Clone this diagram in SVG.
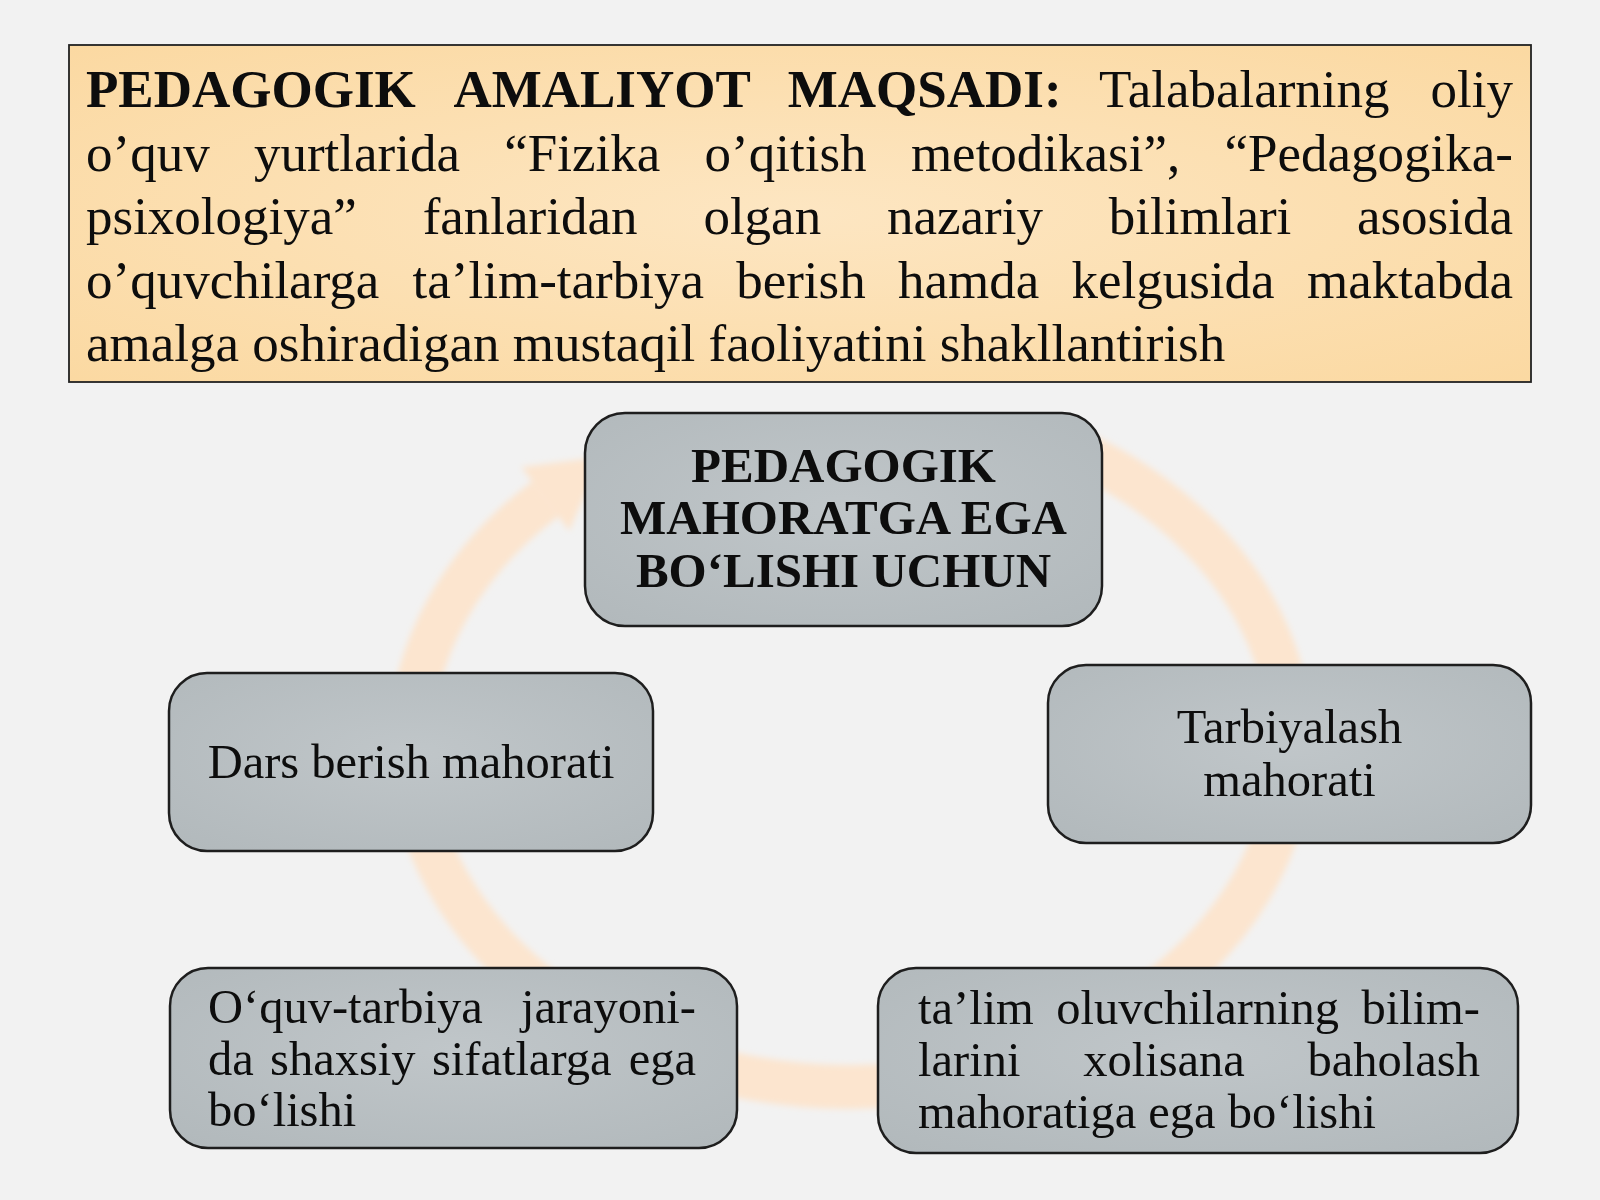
<svg xmlns="http://www.w3.org/2000/svg" width="1600" height="1200" viewBox="0 0 1600 1200">
<defs>
<style>
.serif{font-family:"Liberation Serif","Times New Roman",serif;fill:#0d0d0d;}
.top{font-size:53px;}
.b{font-weight:bold;}
.box{font-size:48.5px;}
.node{stroke:#1e1e1e;stroke-width:2.5;fill:url(#grayG);}
</style>
<radialGradient id="peachG" cx="50%" cy="50%" r="70%">
<stop offset="0" stop-color="#FDE6C2"/>
<stop offset="1" stop-color="#FBD9A2"/>
</radialGradient>
<radialGradient id="grayG" cx="50%" cy="45%" r="70%">
<stop offset="0" stop-color="#C0C6C9"/>
<stop offset="1" stop-color="#B2B9BC"/>
</radialGradient>
<filter id="soft" x="-10%" y="-10%" width="120%" height="120%">
<feGaussianBlur stdDeviation="3"/>
</filter>
</defs>
<rect x="0" y="0" width="1600" height="1200" fill="#F2F2F2"/>

<g id="goal">
<rect x="69" y="45" width="1462" height="337" fill="url(#peachG)" stroke="#222" stroke-width="1.8"/>
<text class="serif top b" x="86" y="107">PEDAGOGIK</text>
<text class="serif top b" x="453.4" y="107">AMALIYOT</text>
<text class="serif top b" x="787.8" y="107">MAQSADI:</text>
<text class="serif top" x="1099" y="107">Talabalarning</text>
<text class="serif top" x="1513" y="107" text-anchor="end">oliy</text>
<text class="serif top" x="86" y="170.5">o’quv</text>
<text class="serif top" x="253.9" y="170.5">yurtlarida</text>
<text class="serif top" x="504.3" y="170.5">“Fizika</text>
<text class="serif top" x="704.6" y="170.5">o’qitish</text>
<text class="serif top" x="910.9" y="170.5">metodikasi”,</text>
<text class="serif top" x="1513" y="170.5" text-anchor="end">“Pedagogika-</text>
<text class="serif top" x="86" y="234">psixologiya”</text>
<text class="serif top" x="422.7" y="234">fanlaridan</text>
<text class="serif top" x="703.4" y="234">olgan</text>
<text class="serif top" x="887" y="234">nazariy</text>
<text class="serif top" x="1108.8" y="234">bilimlari</text>
<text class="serif top" x="1513" y="234" text-anchor="end">asosida</text>
<text class="serif top" x="86" y="297.5">o’quvchilarga</text>
<text class="serif top" x="412.6" y="297.5">ta’lim-tarbiya</text>
<text class="serif top" x="736.2" y="297.5">berish</text>
<text class="serif top" x="897.9" y="297.5">hamda</text>
<text class="serif top" x="1071.4" y="297.5">kelgusida</text>
<text class="serif top" x="1513" y="297.5" text-anchor="end">maktabda</text>
<text class="serif top" x="86" y="361">amalga oshiradigan mustaqil faoliyatini shakllantirish</text>
</g>

<g id="connectors" filter="url(#soft)">
<path d="M1071,448.8 A440,342 0 1 1 545.3,499" fill="none" stroke="#FCE5CF" stroke-width="44"/>
<polygon points="521.3,467 601.3,457 569.3,531" fill="#FCE5CF"/>
</g>

<g id="center">
<rect class="node" x="585" y="413" width="517" height="213" rx="40" ry="40"/>
<text class="serif b" font-size="49" x="843.5" y="482" text-anchor="middle">PEDAGOGIK</text>
<text class="serif b" font-size="49" x="843.5" y="534" text-anchor="middle">MAHORATGA EGA</text>
<text class="serif b" font-size="49" x="843.5" y="587" text-anchor="middle">BO‘LISHI UCHUN</text>
</g>

<g id="dars">
<rect class="node" x="169" y="673" width="484" height="178" rx="38" ry="38"/>
<text class="serif box" x="411" y="778" text-anchor="middle">Dars berish mahorati</text>
</g>

<g id="tarbiyalash">
<rect class="node" x="1048" y="665" width="483" height="178" rx="38" ry="38"/>
<text class="serif box" x="1289.5" y="743" text-anchor="middle">Tarbiyalash</text>
<text class="serif box" x="1289.5" y="796" text-anchor="middle">mahorati</text>
</g>

<g id="oquv">
<rect class="node" x="170" y="968" width="567" height="180" rx="38" ry="38"/>
<text class="serif box" x="208" y="1023">O‘quv-tarbiya</text>
<text class="serif box" x="696" y="1023" text-anchor="end">jarayoni-</text>
<text class="serif box" x="208" y="1075">da</text>
<text class="serif box" x="270.1" y="1075">shaxsiy</text>
<text class="serif box" x="431.9" y="1075">sifatlarga</text>
<text class="serif box" x="696" y="1075" text-anchor="end">ega</text>
<text class="serif box" x="208" y="1126">bo‘lishi</text>
</g>

<g id="baholash">
<rect class="node" x="878" y="968" width="640" height="185" rx="38" ry="38"/>
<text class="serif box" x="918" y="1024">ta’lim</text>
<text class="serif box" x="1056.2" y="1024">oluvchilarning</text>
<text class="serif box" x="1480" y="1024" text-anchor="end">bilim-</text>
<text class="serif box" x="918" y="1076">larini</text>
<text class="serif box" x="1083.2" y="1076">xolisana</text>
<text class="serif box" x="1480" y="1076" text-anchor="end">baholash</text>
<text class="serif box" x="918" y="1128">mahoratiga ega bo‘lishi</text>
</g>
</svg>
